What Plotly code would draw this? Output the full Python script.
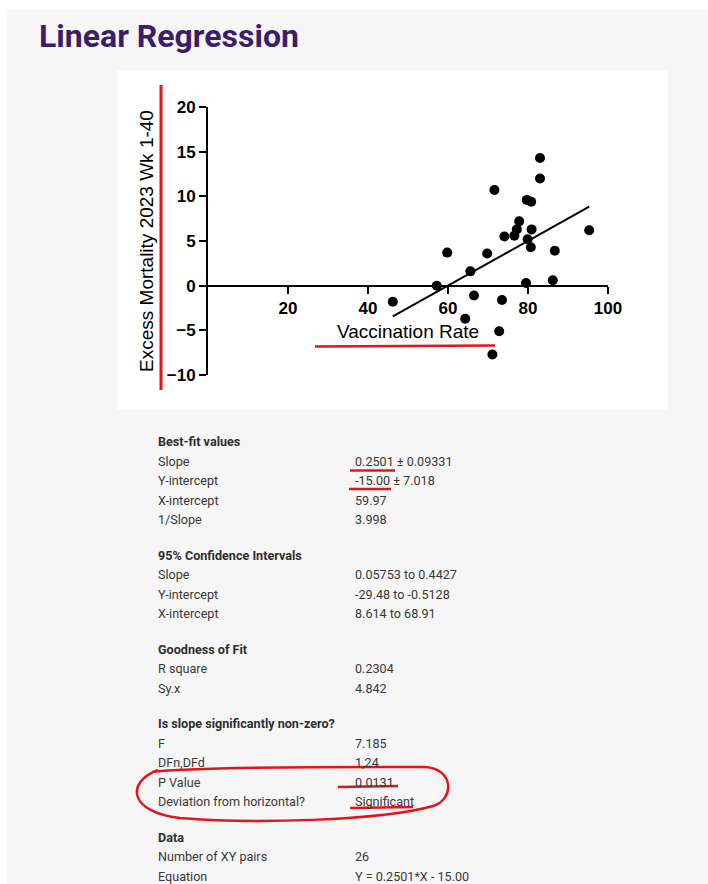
import plotly.graph_objects as go

# ---------------- data ----------------
vaccination_rate = [83.0, 83.0, 71.6, 79.7, 80.8, 77.8, 77.2, 80.9, 95.3, 74.1,
                    76.6, 79.9, 80.7, 59.8, 69.8, 86.7, 65.6, 57.2, 79.5, 86.2,
                    66.5, 73.5, 64.3, 72.8, 71.1, 46.2]
excess_mortality = [14.3, 12.0, 10.7, 9.6, 9.4, 7.2, 6.3, 6.3, 6.2, 5.5,
                    5.6, 5.2, 4.3, 3.7, 3.6, 3.9, 1.6, 0.0, 0.3, 0.6,
                    -1.1, -1.6, -3.7, -5.1, -7.7, -1.8]
fit_slope = 0.2501
fit_intercept = -15.00

x_ticks = [20, 40, 60, 80, 100]
y_ticks = [-10, -5, 0, 5, 10, 15, 20]

page_title = "Linear Regression"
x_title = "Vaccination Rate"
y_title = "Excess Mortality 2023 Wk 1-40"

section_headers = ["Best-fit values", "95% Confidence Intervals", "Goodness of Fit",
                   "Is slope significantly non-zero?", "Data"]
section_labels = [
    ["Slope", "Y-intercept", "X-intercept", "1/Slope"],
    ["Slope", "Y-intercept", "X-intercept"],
    ["R square", "Sy.x"],
    ["F", "DFn,DFd", "P Value", "Deviation from horizontal?"],
    ["Number of XY pairs", "Equation"],
]
section_values = [
    ["0.2501 \u00b1 0.09331", "-15.00 \u00b1 7.018", "59.97", "3.998"],
    ["0.05753 to 0.4427", "-29.48 to -0.5128", "8.614 to 68.91"],
    ["0.2304", "4.842"],
    ["7.185", "1,24", "0.0131", "Significant"],
    ["26", "Y = 0.2501*X - 15.00"],
]

# ---------------- layout helpers (pixel -> paper) ----------------
W, H = 708, 884


def fx(px):
    return px / W


def fy(py):
    return 1 - py / H


x_fit = [min(vaccination_rate), max(vaccination_rate)]
y_fit = [fit_slope * v + fit_intercept for v in x_fit]

fig = go.Figure()
fig.add_trace(go.Scatter(x=x_fit, y=y_fit, mode="lines",
                         line=dict(color="black", width=2), showlegend=False,
                         hoverinfo="skip"))
fig.add_trace(go.Scatter(x=vaccination_rate, y=excess_mortality, mode="markers",
                         marker=dict(color="black", size=10), showlegend=False))

axis_font = dict(family="Arial, Liberation Sans, sans-serif", size=17, color="black", weight="bold")
title_font = dict(family="Arial, Liberation Sans, sans-serif", size=19, color="black")

fig.update_layout(
    # starts small enough to fit inside the page's default body margin;
    # resized to the full 708x884 once the margin is removed (see post_script)
    width=W - 16, height=H - 16,
    margin=dict(l=0, r=0, t=0, b=0, autoexpand=False),
    paper_bgcolor="white",
    plot_bgcolor="rgba(0,0,0,0)",
    showlegend=False,
    xaxis=dict(
        range=[0, 100], domain=[fx(208), fx(608)],
        anchor="free", position=fy(286), automargin=False,
        tickvals=x_ticks, ticks="outside", ticklen=7, tickwidth=2, tickcolor="black",
        showline=True, linewidth=2, linecolor="black",
        showgrid=False, zeroline=False, tickfont=axis_font,
        title=dict(text=x_title, standoff=6, font=title_font),
    ),
    yaxis=dict(
        range=[-10, 20], domain=[fy(375), fy(107)],
        anchor="x", automargin=False,
        tickvals=y_ticks, ticks="outside", ticklen=7, tickwidth=2, tickcolor="black",
        showline=True, linewidth=2, linecolor="black",
        showgrid=False, zeroline=False, tickfont=axis_font,
        title=dict(text=y_title, standoff=8, font=title_font),
    ),
)

shapes = []
# page background panels
shapes.append(dict(type="rect", xref="paper", yref="paper", x0=fx(7), x1=fx(708),
                   y0=fy(884), y1=fy(9.5), fillcolor="#f6f6f6", line=dict(width=0), layer="below"))
shapes.append(dict(type="rect", xref="paper", yref="paper", x0=fx(117), x1=fx(668),
                   y0=fy(410), y1=fy(70), fillcolor="white", line=dict(width=0), layer="below"))

red = "#e0161b"
# hand-drawn red marks
red_lines = [
    (161, 85, 161, 390, 3),
    (315, 346.5, 495, 345.5, 2.5),
    (350, 470.5, 395, 470.5, 2.5),
    (349, 489, 391, 489, 2.5),
    (338, 787, 398, 786, 2.5),
    (350, 808, 413, 807, 2.5),
]
for x0, y0, x1, y1, w in red_lines:
    shapes.append(dict(type="line", xref="paper", yref="paper",
                       x0=fx(x0), y0=fy(y0), x1=fx(x1), y1=fy(y1),
                       line=dict(color=red, width=w)))


def pt(x, y):
    return f"{fx(x):.5f},{fy(y):.5f}"


loop = ("M " + pt(152, 772) +
        " C " + pt(200, 766) + " " + pt(380, 767) + " " + pt(425, 767) +
        " C " + pt(455, 769) + " " + pt(454, 800) + " " + pt(433, 806) +
        " C " + pt(380, 821) + " " + pt(250, 824) + " " + pt(180, 818) +
        " C " + pt(128, 812) + " " + pt(126, 782) + " " + pt(158, 770))
shapes.append(dict(type="path", xref="paper", yref="paper", path=loop,
                   line=dict(color=red, width=2.5)))

annotations = [dict(text=page_title, x=fx(37), y=fy(36), xref="paper", yref="paper",
                    xanchor="left", yanchor="middle", showarrow=False,
                    font=dict(family="Roboto, sans-serif", size=32, color="#3b1e6b", weight="bold"))]

tbl_font = dict(family="Roboto, sans-serif", size=12.6, color="#383838")
hdr_font = dict(family="Roboto, sans-serif", size=12.6, color="#2e2e2e", weight="bold")
row_y = 441.7
step, gap = 19.45, 35.64
for si, header in enumerate(section_headers):
    if si > 0:
        row_y += gap
    annotations.append(dict(text=header, x=fx(156), y=fy(row_y), xref="paper", yref="paper",
                            xanchor="left", yanchor="middle", showarrow=False, font=hdr_font))
    for lab, val in zip(section_labels[si], section_values[si]):
        row_y += step
        annotations.append(dict(text=lab, x=fx(156), y=fy(row_y), xref="paper", yref="paper",
                                xanchor="left", yanchor="middle", showarrow=False, font=tbl_font))
        annotations.append(dict(text=val, x=fx(353), y=fy(row_y), xref="paper", yref="paper",
                                xanchor="left", yanchor="middle", showarrow=False, font=tbl_font))

fig.update_layout(shapes=shapes, annotations=annotations)

post_js = (
    "document.body.style.margin='0px';"
    "Plotly.relayout(document.getElementById('{plot_id}'), {width: %d, height: %d});" % (W, H)
)
fig.write_html("out.html", config={"displayModeBar": False}, post_script=post_js)
